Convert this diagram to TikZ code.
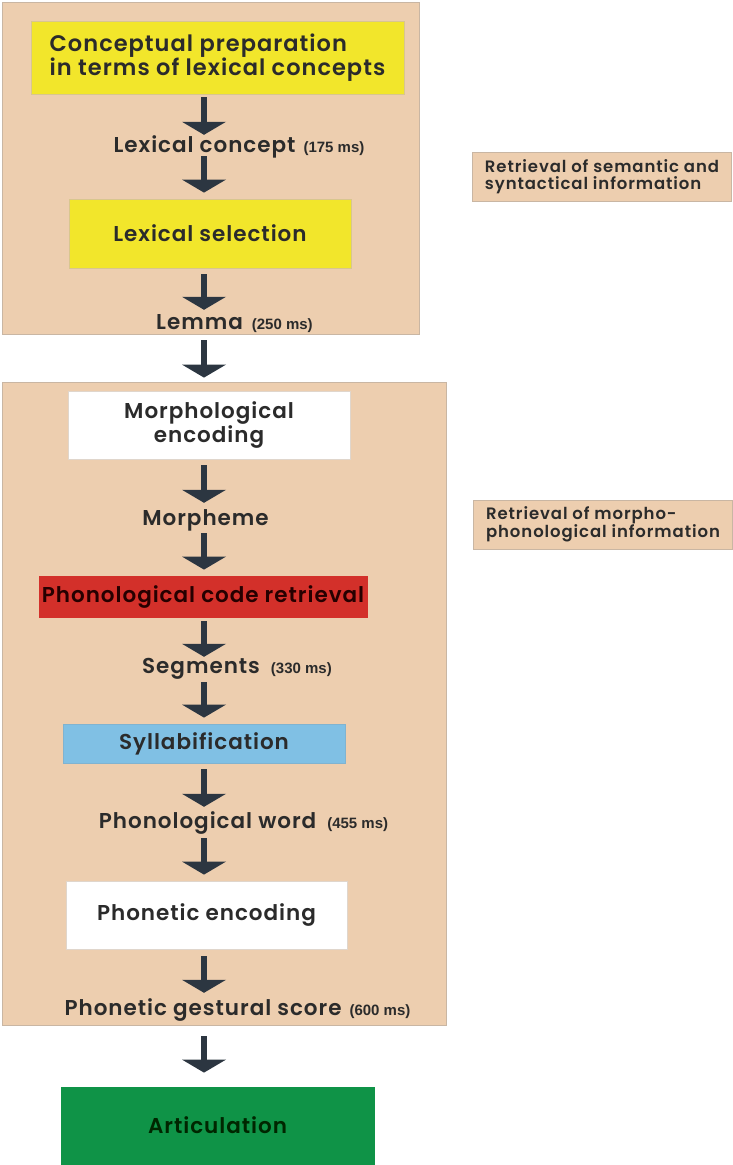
\documentclass[tikz,border=0pt]{standalone}
\usepackage{fontspec}
\setmainfont{Poppins}[BoldFont={* SemiBold}]
\newfontfamily\wide{Poppins}[BoldFont={* SemiBold},LetterSpace=4.5]
\newfontfamily\widesm{Poppins}[BoldFont={* SemiBold},LetterSpace=5.5]
\newfontfamily\parfont{Liberation Sans}
\usetikzlibrary{arrows.meta,calc}
\definecolor{peach}{HTML}{EDCEAF}
\definecolor{panelline}{HTML}{C9B6A3}
\definecolor{ybox}{HTML}{F2E62B}
\definecolor{yline}{HTML}{D8C68E}
\definecolor{rbox}{HTML}{D3302A}
\definecolor{bbox}{HTML}{80C0E4}
\definecolor{gbox}{HTML}{0F9347}
\definecolor{wline}{HTML}{E0D6CC}
\definecolor{arrowc}{HTML}{2C3641}
\definecolor{txt}{HTML}{2B2B2B}
\newcommand\msnote[1]{{\parfont\bfseries\fontsize{15}{18}\selectfont #1}}
\begin{document}
\begin{tikzpicture}[x=1pt,y=-1pt,
  panelbg/.style={draw=panelline,line width=0.8pt,fill=peach},
  box/.style={draw=#1,line width=0.8pt,inner sep=0pt,text=txt,
    font=\wide\fontsize{21.5}{22}\selectfont\bfseries,align=center},
  lbl/.style={inner sep=0pt,text height=16pt,text depth=4pt,text=txt,
    font=\wide\fontsize{21.5}{22}\selectfont\bfseries},
  side/.style={draw=panelline,line width=0.8pt,fill=peach,inner sep=0pt,
    minimum width=259pt,minimum height=49pt,align=left,text=txt,
    font=\widesm\fontsize{16.5}{17}\selectfont\bfseries},
  arr/.style={draw=arrowc,line width=5.5pt,
    -{Triangle[width=44pt,length=13pt,line width=0pt]}}
]
\useasboundingbox (0,0) rectangle (732,1165);
\fill[white] (0,0) rectangle (732,1165);
% panels
\filldraw[panelbg] (2,2) rectangle (419,334);
\filldraw[panelbg] (2,382) rectangle (446,1025);
\coordinate (ax) at (204,0);
% boxes and labels
\node[box=yline,fill=ybox,minimum width=373pt,minimum height=73pt,
  font=\wide\fontsize{22.5}{24}\selectfont\bfseries,align=left] (b1) at (217.5,57.5)
  {Conceptual preparation\\in terms of lexical concepts};
\node[lbl,anchor=base] (lc) at (239,152) {Lexical concept\hspace{8pt}\msnote{(175 ms)}};
\node[box=yline,fill=ybox,minimum width=282pt,minimum height=69pt] (b2) at (210,233.5) {Lexical selection};
\node[lbl,anchor=base] (lem) at (234.5,329) {Lemma\hspace{9pt}\msnote{(250 ms)}};
\node[box=wline,fill=white,minimum width=282pt,minimum height=68pt] (mo) at (209,425) {Morphological\\encoding};
\node[lbl,anchor=base] (mph) at (205.5,525) {Morpheme};
\node[box=rbox,fill=rbox,minimum width=328pt,minimum height=41pt,text=black!85!red] (pc) at (203,596.5) {Phonological code retrieval};
\node[lbl,anchor=base] (seg) at (237,673) {Segments\hspace{11pt}\msnote{(330 ms)}};
\node[box=bbox!80!gray,fill=bbox,minimum width=282pt,minimum height=39pt] (syl) at (204,743.5) {Syllabification};
\node[lbl,anchor=base] (pw) at (243.5,828) {Phonological word\hspace{11pt}\msnote{(455 ms)}};
\node[box=wline,fill=white,minimum width=281pt,minimum height=68pt] (pe) at (206.5,915) {Phonetic encoding};
\node[lbl,anchor=base] (gs) at (237.5,1015) {Phonetic gestural score\hspace{8pt}\msnote{(600 ms)}};
\node[box=gbox,fill=gbox,minimum width=313pt,minimum height=77pt,text=black!85!green] (ar) at (217.5,1125.5) {Articulation};
% side notes
\node[side] (s1) at (602,176.5) {Retrieval of semantic and\\syntactical information};
\node[side] (s2) at (603,524.5) {Retrieval of morpho-\\phonological information};
% arrows
\draw[arr,shorten <=3pt,shorten >=1pt] (ax |- b1.south) -- (ax |- lc.north);
\draw[arr,shorten <=0pt,shorten >=6pt] (ax |- lc.south) -- (ax |- b2.north);
\draw[arr,shorten <=6pt,shorten >=3pt] (ax |- b2.south) -- (ax |- lem.north);
\draw[arr,shorten <=7pt,shorten >=13pt] (ax |- lem.south) -- (ax |- mo.north);
\draw[arr,shorten <=6pt,shorten >=6pt] (ax |- mo.south) -- (ax |- mph.north);
\draw[arr,shorten <=4pt,shorten >=6pt] (ax |- mph.south) -- (ax |- pc.north);
\draw[arr,shorten <=4pt,shorten >=0pt] (ax |- pc.south) -- (ax |- seg.north);
\draw[arr,shorten <=5pt,shorten >=6pt] (ax |- seg.south) -- (ax |- syl.north);
\draw[arr,shorten <=6pt,shorten >=5pt] (ax |- syl.south) -- (ax |- pw.north);
\draw[arr,shorten <=6pt,shorten >=6pt] (ax |- pw.south) -- (ax |- pe.north);
\draw[arr,shorten <=7pt,shorten >=6pt] (ax |- pe.south) -- (ax |- gs.north);
\draw[arr,shorten <=17pt,shorten >=14pt] (ax |- gs.south) -- (ax |- ar.north);
\end{tikzpicture}
\end{document}
